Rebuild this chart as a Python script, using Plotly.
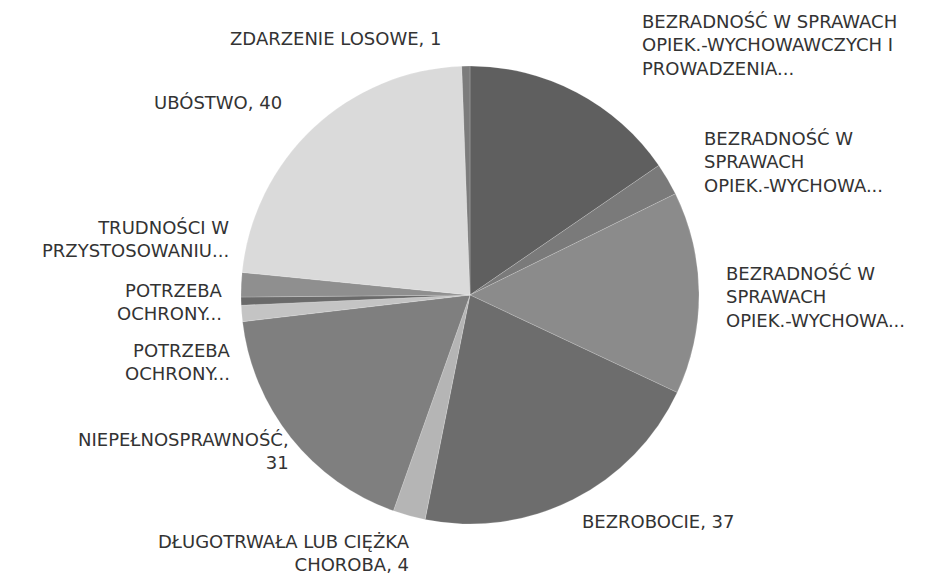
import plotly.graph_objects as go

# Data (clockwise from 12 o'clock)
categories = [
    "BEZRADNOŚĆ W SPRAWACH OPIEK.-WYCHOWAWCZYCH I PROWADZENIA GOSPODARSTWA DOMOWEGO",
    "BEZRADNOŚĆ W SPRAWACH OPIEK.-WYCHOWAWCZYCH - RODZINA NIEPEŁNA",
    "BEZRADNOŚĆ W SPRAWACH OPIEK.-WYCHOWAWCZYCH - RODZINA WIELODZIETNA",
    "BEZROBOCIE",
    "DŁUGOTRWAŁA LUB CIĘŻKA CHOROBA",
    "NIEPEŁNOSPRAWNOŚĆ",
    "POTRZEBA OCHRONY MACIERZYŃSTWA",
    "POTRZEBA OCHRONY MACIERZYŃSTWA - WIELODZIETNOŚĆ",
    "TRUDNOŚCI W PRZYSTOSOWANIU DO ŻYCIA PO ZWOLNIENIU Z ZAKŁADU KARNEGO",
    "UBÓSTWO",
    "ZDARZENIE LOSOWE",
]
values = [27, 4, 25, 37, 4, 31, 2, 1, 3, 40, 1]

# Labels as printed on the chart (long names are cut off, without value)
label_texts = [
    "BEZRADNOŚĆ W SPRAWACH<br>OPIEK.-WYCHOWAWCZYCH I<br>PROWADZENIA...",
    "BEZRADNOŚĆ W<br>SPRAWACH<br>OPIEK.-WYCHOWA...",
    "BEZRADNOŚĆ W<br>SPRAWACH<br>OPIEK.-WYCHOWA...",
    f"BEZROBOCIE, {values[3]}",
    f"DŁUGOTRWAŁA LUB CIĘŻKA<br>CHOROBA, {values[4]}",
    f"NIEPEŁNOSPRAWNOŚĆ,<br>{values[5]}",
    "POTRZEBA<br>OCHRONY...",
    "POTRZEBA<br>OCHRONY...",
    "TRUDNOŚCI W<br>PRZYSTOSOWANIU...",
    f"UBÓSTWO, {values[9]}",
    f"ZDARZENIE LOSOWE, {values[10]}",
]

slice_colors = [
    "#5f5f5f", "#7a7a7a", "#8b8b8b", "#6d6d6d", "#b5b5b5", "#7f7f7f",
    "#c4c4c4", "#6a6a6a", "#8f8f8f", "#dadada", "#7c7c7c",
]

# the page body has an 8px margin, so the figure is a bit smaller than the window
OFF = 8
W, H = 938 - OFF, 580 - OFF

# label anchors in window pixels: (x, y, xanchor, align)
label_pos = [
    (640, 45, "left", "left"),
    (702, 162, "left", "left"),
    (724, 297, "left", "left"),
    (580, 521, "left", "left"),
    (412, 553, "right", "right"),
    (291, 451, "right", "right"),
    (233, 362, "right", "right"),
    (225, 302, "right", "right"),
    (231, 239, "right", "right"),
    (152, 103, "left", "left"),
    (228, 38, "left", "left"),
]

cx, cy, r = 470 - OFF, 295 - OFF, 229

fig = go.Figure(go.Pie(
    labels=categories,
    values=values,
    sort=False,
    direction="clockwise",
    rotation=0,
    textinfo="none",
    hoverinfo="label+value",
    marker=dict(colors=slice_colors, line=dict(color="rgba(255,255,255,0.35)", width=0.5)),
    domain=dict(x=[(cx - r) / W, (cx + r) / W], y=[(H - cy - r) / H, (H - cy + r) / H]),
    showlegend=False,
))

for txt, (px_, py_, xa, al) in zip(label_texts, label_pos):
    fig.add_annotation(
        x=(px_ - OFF) / W, y=1 - (py_ - OFF) / H, xref="paper", yref="paper",
        text=txt, showarrow=False, xanchor=xa, yanchor="middle", align=al,
        font=dict(family="DejaVu Sans", size=18, color="#333333"),
    )

fig.update_layout(
    width=W, height=H,
    margin=dict(t=0, b=0, l=0, r=0),
    paper_bgcolor="white",
    plot_bgcolor="white",
)

fig.write_html("out.html")
